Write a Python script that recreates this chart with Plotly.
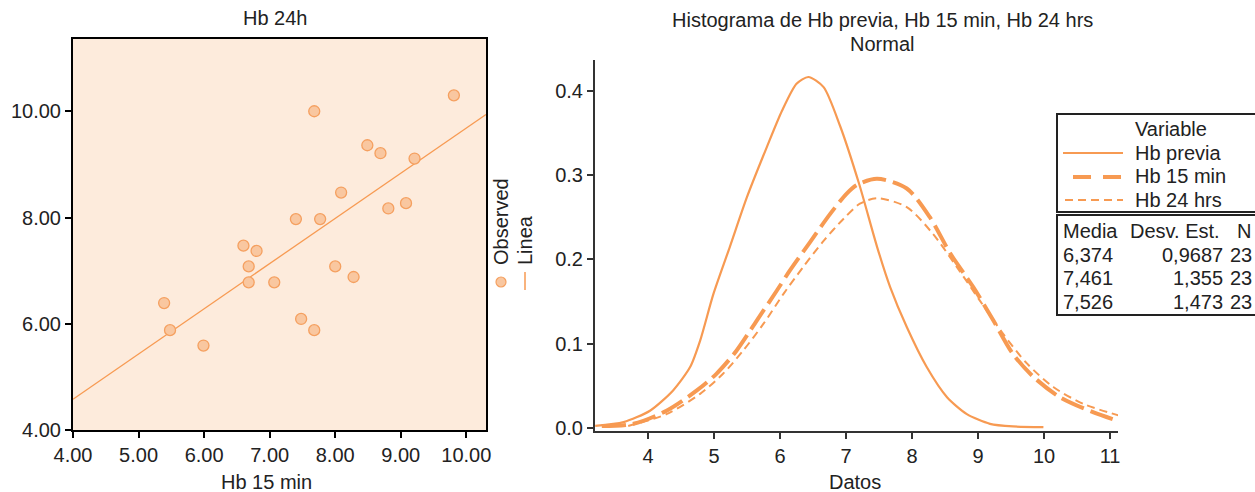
import plotly.graph_objects as go

W, H = 1255, 492

# ---------------- data ----------------
# Left: scatter Hb 15 min (x) vs Hb 24h (y)
hb15 = [9.81, 7.68, 8.49, 8.69, 9.21, 8.09, 9.08, 8.81, 7.40, 7.77, 6.60,
        6.80, 6.68, 8.00, 6.68, 7.07, 8.28, 5.39, 5.48, 5.99, 7.48, 7.68]
hb24 = [10.30, 10.00, 9.36, 9.21, 9.11, 8.47, 8.27, 8.17, 7.97, 7.97, 7.47,
        7.37, 7.08, 7.08, 6.78, 6.78, 6.88, 6.39, 5.88, 5.59, 6.09, 5.88]
linea_x = [4.0, 10.3]
linea_y = [4.58, 9.94]

# Right: fitted normal curves
previa_x = [3.20, 3.63, 4.03, 4.38, 4.64, 4.79, 4.99, 5.24, 5.50, 5.80, 6.03, 6.25,
            6.43, 6.66, 6.91, 7.20, 7.47, 7.67, 7.92, 8.22, 8.53, 8.83, 9.18,
            9.53, 9.99]
previa_y = [0.003, 0.0075, 0.021, 0.045, 0.073, 0.104, 0.159, 0.215, 0.274, 0.333,
            0.376, 0.408, 0.416, 0.404, 0.358, 0.289, 0.215, 0.167, 0.120,
            0.073, 0.037, 0.017, 0.0055, 0.0024, 0.0016]

m15_x = [3.30, 3.78, 4.28, 4.74, 5.04, 5.34, 5.65, 5.95, 6.15, 6.45, 6.76, 7.01,
         7.16, 7.47, 7.92, 8.27, 8.58, 8.93, 9.23, 9.53, 9.84, 10.24, 10.75, 11.10]
m15_y = [0.003, 0.0055, 0.021, 0.045, 0.065, 0.092, 0.128, 0.163, 0.187, 0.220,
         0.254, 0.278, 0.288, 0.2955, 0.284, 0.250, 0.207, 0.167, 0.128, 0.088,
         0.061, 0.037, 0.019, 0.0095]

h24_x = [3.70, 4.28, 4.79, 5.14, 5.44, 5.75, 6.05, 6.35, 6.66, 6.96, 7.21, 7.47,
         7.92, 8.32, 8.68, 9.03, 9.38, 9.74, 10.14, 10.60, 11.13]
h24_y = [0.003, 0.017, 0.041, 0.065, 0.092, 0.124, 0.159, 0.191, 0.222, 0.248,
         0.266, 0.2725, 0.262, 0.230, 0.191, 0.151, 0.112, 0.077, 0.049, 0.029,
         0.0154]

series_names = ["Hb previa", "Hb 15 min", "Hb 24 hrs"]
table_header = ["Media", "Desv. Est.", "N"]
medias = ["6,374", "7,461", "7,526"]
desv = ["0,9687", "1,355", "1,473"]
ns = ["23", "23", "23"]

# ---------------- style ----------------
ORANGE = "#F79A52"
MARK_FILL = "#F9C7A0"
MARK_LINE = "#F5A060"
BG = "#FDEBDC"
TXT = "#222222"
FONT = "Liberation Sans, Arial, sans-serif"
FS = 20


def px(x):
    return x / W


def py(y):
    return (H - y) / H


fig = go.Figure()

# left scatter
fig.add_trace(go.Scatter(x=linea_x, y=linea_y, mode="lines",
                         line=dict(color=ORANGE, width=1.3),
                         xaxis="x", yaxis="y", showlegend=False, hoverinfo="skip"))
fig.add_trace(go.Scatter(x=hb15, y=hb24, mode="markers",
                         marker=dict(size=11, color=MARK_FILL,
                                     line=dict(color=MARK_LINE, width=1.3)),
                         xaxis="x", yaxis="y", showlegend=False))

# right curves
fig.add_trace(go.Scatter(x=previa_x, y=previa_y, mode="lines",
                         line=dict(color=ORANGE, width=2.2, shape="spline", smoothing=0.7),
                         xaxis="x2", yaxis="y2", showlegend=False))
fig.add_trace(go.Scatter(x=m15_x, y=m15_y, mode="lines",
                         line=dict(color=ORANGE, width=4, dash="24px,7px",
                                   shape="spline", smoothing=0.8),
                         xaxis="x2", yaxis="y2", showlegend=False))
fig.add_trace(go.Scatter(x=h24_x, y=h24_y, mode="lines",
                         line=dict(color=ORANGE, width=2, dash="8px,5px",
                                   shape="spline", smoothing=0.8),
                         xaxis="x2", yaxis="y2", showlegend=False))

axis_font = dict(family=FONT, size=FS, color=TXT)

fig.update_layout(
    template="none",
    width=W, height=H, autosize=False,
    margin=dict(l=0, r=0, t=0, b=0, pad=0, autoexpand=False),
    showlegend=False,
    paper_bgcolor="white", plot_bgcolor="white",
    font=dict(family=FONT, size=FS, color=TXT),
    xaxis=dict(domain=[px(73), px(486)], range=[4, 10.3], automargin=False,
               tickvals=[4, 5, 6, 7, 8, 9, 10], tickformat=".2f",
               showgrid=False, zeroline=False, showline=True, mirror=True,
               linecolor="black", linewidth=2, ticks="outside", ticklen=6,
               tickcolor="black", tickwidth=2, tickfont=axis_font, anchor="y"),
    yaxis=dict(domain=[py(430), py(39)], range=[4, 11.36], automargin=False,
               tickvals=[4, 6, 8, 10], tickformat=".2f",
               showgrid=False, zeroline=False, showline=True, mirror=True,
               linecolor="black", linewidth=2, ticks="outside", ticklen=6,
               tickcolor="black", tickwidth=2, tickfont=axis_font, anchor="x"),
    xaxis2=dict(domain=[px(595), px(1118)], range=[3.197, 11.12], automargin=False,
                tickvals=[4, 5, 6, 7, 8, 9, 10, 11],
                showgrid=False, zeroline=False, showline=True,
                linecolor="#333333", linewidth=2, ticks="outside", ticklen=6,
                tickcolor="#333333", tickwidth=2, tickfont=axis_font, anchor="y2"),
    yaxis2=dict(domain=[py(431), py(60)], range=[-0.003, 0.4361], automargin=False,
                tickvals=[0, 0.1, 0.2, 0.3, 0.4], tickformat=".1f",
                showgrid=False, zeroline=False, showline=True,
                linecolor="#333333", linewidth=2, ticks="outside", ticklen=6,
                tickcolor="#333333", tickwidth=2, tickfont=axis_font, anchor="x2"),
)

shapes = []
# left plot background
shapes.append(dict(type="rect", xref="x domain", yref="y domain", x0=0, x1=1, y0=0, y1=1,
                   fillcolor=BG, line=dict(width=0), layer="below"))
# left legend swatches
shapes.append(dict(type="circle", xref="paper", yref="paper",
                   x0=px(496), x1=px(506), y0=py(287), y1=py(277),
                   fillcolor=MARK_FILL, line=dict(color=MARK_LINE, width=1.2)))
shapes.append(dict(type="line", xref="paper", yref="paper",
                   x0=px(525), x1=px(525), y0=py(272), y1=py(290),
                   line=dict(color=ORANGE, width=1.5)))
# right legend boxes
shapes.append(dict(type="rect", xref="paper", yref="paper",
                   x0=px(1057), x1=px(1270), y0=py(212), y1=py(114),
                   line=dict(color="#222222", width=2), fillcolor="white"))
shapes.append(dict(type="rect", xref="paper", yref="paper",
                   x0=px(1057), x1=px(1270), y0=py(315), y1=py(215),
                   line=dict(color="#222222", width=2), fillcolor="white"))
# legend line samples
shapes.append(dict(type="line", xref="paper", yref="paper",
                   x0=px(1063), x1=px(1123), y0=py(153), y1=py(153),
                   line=dict(color=ORANGE, width=2.2)))
shapes.append(dict(type="line", xref="paper", yref="paper",
                   x0=px(1073), x1=px(1123), y0=py(177), y1=py(177),
                   line=dict(color=ORANGE, width=4, dash="18px,12px")))
shapes.append(dict(type="line", xref="paper", yref="paper",
                   x0=px(1065), x1=px(1123), y0=py(200), y1=py(200),
                   line=dict(color=ORANGE, width=2, dash="8px,5px")))
fig.update_layout(shapes=shapes)

ann = []


def text(x, y, s, xa="center", ya="middle", angle=0, size=FS):
    ann.append(dict(x=px(x), y=py(y), xref="paper", yref="paper", text=s,
                    showarrow=False, xanchor=xa, yanchor=ya, textangle=angle,
                    font=dict(family=FONT, size=size, color=TXT)))


# titles
text(275, 18, "Hb 24h")
text(266, 482, "Hb 15 min")
text(882, 20, "Histograma de Hb previa, Hb 15 min, Hb 24 hrs")
text(882, 44, "Normal")
text(855, 482, "Datos")
# left legend (rotated)
text(500.5, 267, "Observed", ya="bottom", angle=-90)
text(525, 267, "Linea", ya="bottom", angle=-90)
# right legend
text(1133, 129, "Variable", xa="left")
for i, nm in enumerate(series_names):
    text(1133, 153 + 23.3 * i, nm, xa="left")
# table
text(1061, 231, table_header[0], xa="left")
text(1222, 231, table_header[1], xa="right")
text(1253, 231, table_header[2], xa="right")
for i in range(3):
    yy = 255 + 23.3 * i
    text(1061, yy, medias[i], xa="left")
    text(1225, yy, desv[i], xa="right")
    text(1228, yy, ns[i], xa="left")

fig.update_layout(annotations=ann)

fig.write_html(
    "out.html",
    config={"displayModeBar": False},
    post_script="document.body.style.margin='0';document.body.style.overflow='hidden';",
)
